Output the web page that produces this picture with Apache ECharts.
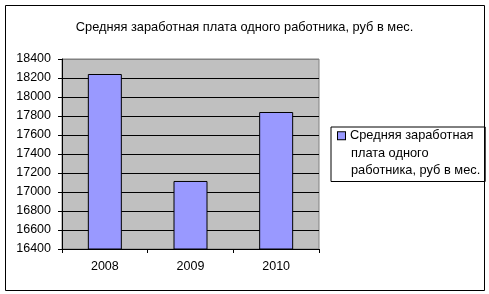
<!DOCTYPE html>
<html>
<head>
<meta charset="utf-8">
<script src="https://cdn.jsdelivr.net/npm/echarts@6/dist/echarts.min.js"></script>
<style>html,body{margin:0;padding:0;background:#fff;}#c{width:489px;height:294px;}</style>
</head>
<body>
<div id="c"></div>
<script>
var titleText = 'Средняя заработная плата одного работника, руб в мес.';
var seriesName = 'Средняя заработная плата одного работника, руб в мес.';
var categories = ['2008', '2009', '2010'];
var values = [18242, 17116, 17842];
var yMin = 16400, yMax = 18400, yStep = 200;

var FONT = "'Liberation Sans', Arial, sans-serif";
var TXT = 12.8;
var chart = echarts.init(document.getElementById('c'), null, {renderer: 'canvas'});
var splitColors = [];
for (var v = yMin; v <= yMax; v += yStep) splitColors.push(v === yMax ? '#808080' : '#000000');

chart.setOption({
  animation: false,
  backgroundColor: '#ffffff',
  title: {
    text: titleText, left: 'center', top: 16,
    textStyle: {fontFamily: FONT, fontSize: TXT, fontWeight: 'normal', color: '#000'}
  },
  grid: {
    left: 62, right: 170, top: 59, bottom: 45, containLabel: false,
    show: true, backgroundColor: '#c0c0c0', borderColor: '#808080', borderWidth: 1
  },
  legend: {
    left: 331, top: 127, orient: 'vertical',
    icon: 'none', itemWidth: 0, itemHeight: 0,
    padding: [0, 5, 2, 2],
    backgroundColor: '#fff', borderColor: '#000', borderWidth: 1, borderRadius: 0,
    selectedMode: false,
    formatter: function () {
      return '{sq|}{g|}{t|Средняя заработная}\n{i|плата одного}\n{i|работника, руб в мес.}';
    },
    textStyle: {
      fontFamily: FONT, fontSize: TXT, color: '#000', lineHeight: 17.5,
      rich: {
        sq: {width: 7, height: 7, backgroundColor: '#9999ff', borderColor: '#000', borderWidth: 1},
        g: {width: 5},
        t: {fontFamily: FONT, fontSize: TXT, color: '#000', lineHeight: 17.5},
        i: {fontFamily: FONT, fontSize: TXT, color: '#000', lineHeight: 17.5, padding: [0, 0, 0, 13]}
      }
    },
    data: [seriesName]
  },
  xAxis: {
    type: 'category', data: categories,
    axisLine: {lineStyle: {color: '#000', width: 1}},
    axisTick: {show: true, length: 4, lineStyle: {color: '#000'}},
    axisLabel: {fontFamily: FONT, fontSize: 12.5, color: '#000', margin: 11}
  },
  yAxis: {
    type: 'value', min: yMin, max: yMax, interval: yStep,
    axisLine: {show: true, lineStyle: {color: '#000', width: 1}},
    axisTick: {show: true, length: 4, lineStyle: {color: '#000'}},
    axisLabel: {fontFamily: FONT, fontSize: 12.5, color: '#000', margin: 11,
      formatter: function (val) { return String(val); }},
    splitLine: {show: true, lineStyle: {color: splitColors, width: 1}}
  },
  series: [{
    name: seriesName, type: 'bar', data: values, barWidth: 34,
    itemStyle: {color: '#9999ff', borderColor: '#000', borderWidth: 1}
  }],
  graphic: [{
    type: 'rect', silent: true, z: 100,
    shape: {x: 5.5, y: 5.5, width: 479, height: 285},
    style: {fill: 'none', stroke: '#000', lineWidth: 1}
  }]
});
</script>
</body>
</html>
